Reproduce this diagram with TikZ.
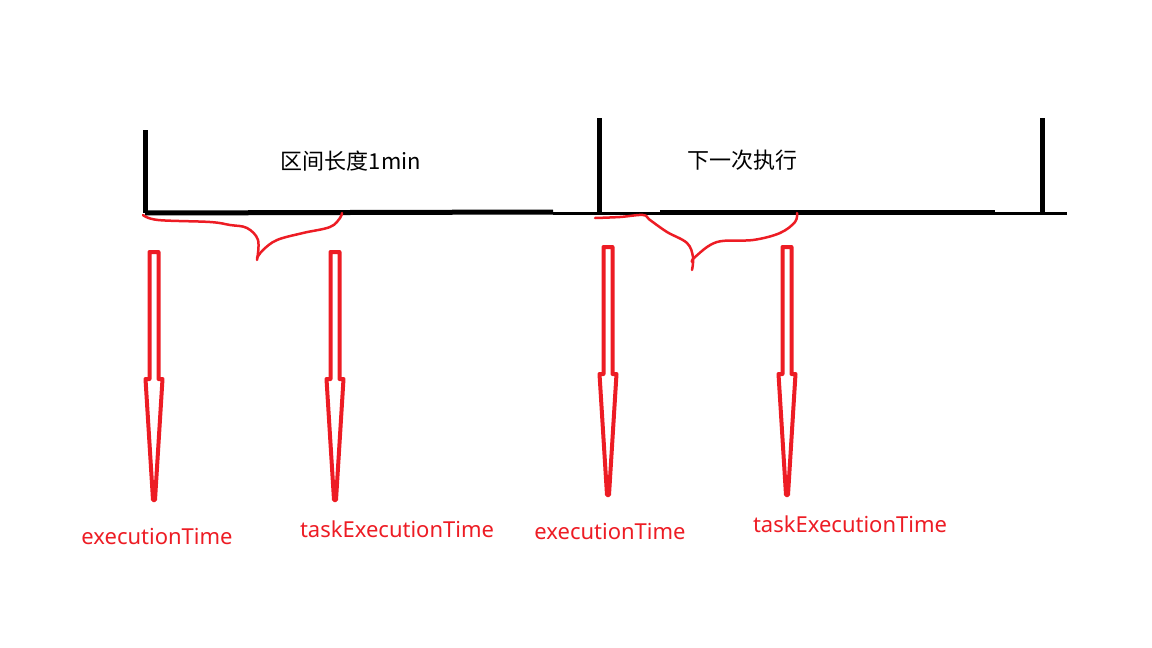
\documentclass[tikz,border=0pt]{standalone}
\usepackage{fontspec}
\setmainfont{Noto Sans}
\newfontfamily\cjk{Noto Sans CJK SC}
\definecolor{paintred}{RGB}{237,28,36}
\tikzset{
  axis/.style={line width=5pt},
  thinaxis/.style={line width=3pt},
  brace/.style={paintred, line width=2.5pt, line cap=round, line join=round},
  fatarrow/.style={paintred, line width=4pt, line join=round},
  lbl/.style={text=paintred, font=\fontsize{22}{26}\selectfont, inner sep=0pt},
  title/.style={font=\cjk\fontsize{22}{26}\selectfont, inner sep=0pt}
}
\begin{document}
\begin{tikzpicture}[x=1pt, y=-1pt]
            \useasboundingbox (0,0) rectangle (1152,648);
            \path (145,213) coordinate (O);
            \path (599,213) coordinate (M);
            \path (1042,213) coordinate (N);
            \path (154,250) coordinate (S1);
            \path (335,250) coordinate (S2);
            \path (608,245) coordinate (S3);
            \path (787,245) coordinate (S4);
            % time line
            \draw[axis] (O) -- ++(0,-83);
            \draw[axis] (M) -- ++(0,-95);
            \draw[axis] (N) -- ++(0,-95);
            \draw[axis] (O) -- (553,212);
            \draw[thinaxis] (553,213) -- (1067,213);
            \draw[axis] (660,212) -- (995,212);
            \node[title] (A) at (351,161) {区间长度1min};
            \node[title] (B) at (742,160) {下一次执行};
            % braces
            \draw[brace] plot[smooth, tension=0.6] coordinates {(143,215) (158,220) (210,222) (230,225) (247,228) (258,240) (257,260)};
            \draw[brace] plot[smooth, tension=0.6] coordinates {(257,258) (263,250) (277,240) (303,233) (330,227) (340,218) (342,213)};
            \draw[brace] plot[smooth, tension=0.6] coordinates {(595,218) (620,217) (643,215) (650,220) (667,232) (687,243) (693,257) (692,270)};
            \draw[brace] plot[smooth, tension=0.6] coordinates {(692,262) (695,257) (717,242) (753,240) (780,233) (795,222) (797,213)};
            % arrows
            \foreach \a in {1,...,4}
                \draw[fatarrow, shift={(S\a)}] (-4.5,2) -- (4.5,2) -- (4.5,129) -- (8.5,129) -- (1,250) -- (-1,250) -- (-8.5,129) -- (-4.5,129) -- cycle;
            \node[lbl] (E1) at (157,536) {executionTime};
            \node[lbl] (T1) at (397,529) {taskExecutionTime};
            \node[lbl] (E2) at (610,531) {executionTime};
            \node[lbl] (T2) at (850,524) {taskExecutionTime};
        \end{tikzpicture}
\end{document}
